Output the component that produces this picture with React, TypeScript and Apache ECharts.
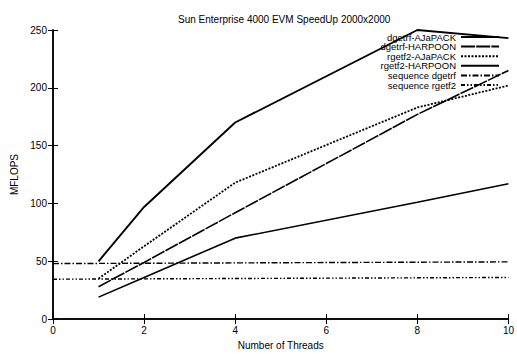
import React, { useEffect, useRef } from "react";
import * as echarts from "echarts";

const threads = [1, 2, 4, 8, 10];
const dgetrfAJaPACK = [50, 97, 170, 250, 243];
const dgetrfHARPOON = [28, 49, 92, 177, 215];
const rgetf2AJaPACK = [35, 63, 118, 183, 202];
const rgetf2HARPOON = [19, 36, 70, 101, 117];
const seqThreads = [0, 10];
const seqDgetrf = [48, 49.5];
const seqRgetf2 = [34.5, 36];

const FONT = "Liberation Sans";

function pairs(xs: number[], ys: number[]) {
  return xs.map((x, i) => [x, ys[i]]);
}

export default function App() {
  const ref = useRef<HTMLDivElement>(null);
  useEffect(() => {
    if (!ref.current) return;
    const chart = echarts.init(ref.current, undefined, { renderer: "svg" });
    const line = (name: string, xs: number[], ys: number[], type: any, width = 1.6) => ({
      name,
      type: "line",
      data: pairs(xs, ys),
      symbol: "none",
      showSymbol: false,
      lineStyle: { color: "#000", width, type },
      itemStyle: { color: "#000" },
    });
    const axisCommon = {
      axisLine: { show: true, lineStyle: { color: "#000", width: 1.5 } },
      axisTick: { show: true, inside: true, length: 5, lineStyle: { color: "#000", width: 1 } },
      splitLine: { show: false },
    };
    chart.setOption({
      animation: false,
      title: {
        text: "Sun Enterprise 4000 EVM SpeedUp 2000x2000",
        left: 173,
        top: 9,
        textStyle: { fontSize: 10, fontWeight: "normal", fontFamily: FONT, color: "#000" },
      },
      grid: { left: 53, right: 8, top: 30, bottom: 30, show: false },
      legend: {
        orient: "vertical",
        right: 12,
        top: 27,
        align: "right",
        itemWidth: 38,
        itemHeight: 9.5,
        itemGap: -0.4,
        itemStyle: { opacity: 0 },
        textStyle: { fontSize: 9.5, fontFamily: FONT, color: "#000", lineHeight: 9.5 },
        data: [
          "dgetrf-AJaPACK",
          "dgetrf-HARPOON",
          "rgetf2-AJaPACK",
          "rgetf2-HARPOON",
          "sequence dgetrf",
          "sequence rgetf2",
        ],
      },
      xAxis: [
        {
          type: "value",
          min: 0,
          max: 10,
          interval: 2,
          ...axisCommon,
          axisLabel: { fontSize: 10, fontFamily: FONT, color: "#000", margin: 6 },
          name: "Number of Threads",
          nameLocation: "middle",
          nameGap: 19,
          nameTextStyle: { fontSize: 10, fontFamily: FONT, color: "#000", verticalAlign: "top" },
        },
        {
          type: "value",
          position: "top",
          min: 0,
          max: 10,
          interval: 2,
          ...axisCommon,
          axisLabel: { show: false },
        },
      ],
      yAxis: [
        {
          type: "value",
          min: 0,
          max: 250,
          interval: 50,
          ...axisCommon,
          axisLabel: { fontSize: 10, fontFamily: FONT, color: "#000", margin: 6 },
          name: "MFLOPS",
          nameLocation: "middle",
          nameGap: 29,
          nameRotate: 90,
          nameTextStyle: { fontSize: 10, fontFamily: FONT, color: "#000" },
        },
        {
          type: "value",
          position: "right",
          min: 0,
          max: 250,
          interval: 50,
          ...axisCommon,
          axisLabel: { show: false },
        },
      ],
      series: [
        line("dgetrf-AJaPACK", threads, dgetrfAJaPACK, "solid", 1.9),
        line("dgetrf-HARPOON", threads, dgetrfHARPOON, [14, 1.2], 1.6),
        line("rgetf2-AJaPACK", threads, rgetf2AJaPACK, [2, 1.5], 1.8),
        line("rgetf2-HARPOON", threads, rgetf2HARPOON, "solid", 1.6),
        line("sequence dgetrf", seqThreads, seqDgetrf, [6, 2, 1.5, 2], 1.4),
        line("sequence rgetf2", seqThreads, seqRgetf2, [4, 2, 1.5, 2, 1.5, 2], 1.4),
      ],
    });
    return () => chart.dispose();
  }, []);
  return <div ref={ref} style={{ width: 517, height: 355, position: "absolute", left: 0, top: 0 }} />;
}
